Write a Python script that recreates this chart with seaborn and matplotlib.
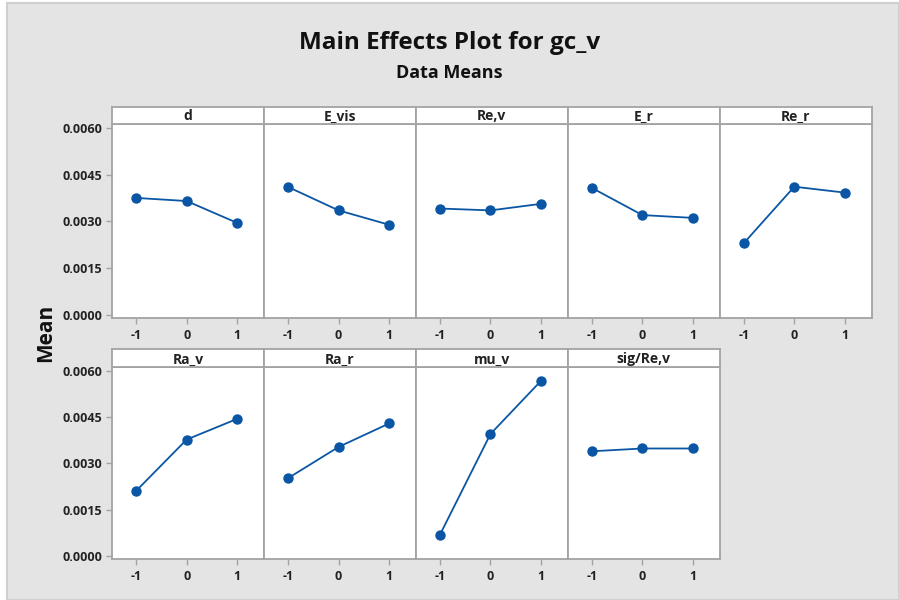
import matplotlib
matplotlib.use("Agg")
import matplotlib.pyplot as plt
from matplotlib.patches import Rectangle
import seaborn as sns
import pandas as pd

# ---- data ----
levels = [-1, 0, 1]
factors = ["d", "E_vis", "Re,v", "E_r", "Re_r", "Ra_v", "Ra_r", "mu_v", "sig/Re,v"]
d_means = [0.00375, 0.00365, 0.00295]
e_vis_means = [0.00410, 0.00335, 0.00289]
re_v_means = [0.00341, 0.00335, 0.00356]
e_r_means = [0.00407, 0.00320, 0.00311]
re_r_means = [0.00230, 0.00411, 0.00392]
ra_v_means = [0.00211, 0.00377, 0.00444]
ra_r_means = [0.00252, 0.00353, 0.00429]
mu_v_means = [0.00069, 0.00395, 0.00567]
sig_re_v_means = [0.00339, 0.00348, 0.00348]
yticks = [0.0000, 0.0015, 0.0030, 0.0045, 0.0060]
ytick_labels = ["0.0000", "0.0015", "0.0030", "0.0045", "0.0060"]
title = "Main Effects Plot for gc_v"
subtitle = "Data Means"
ylabel = "Mean"

series = [d_means, e_vis_means, re_v_means, e_r_means, re_r_means,
          ra_v_means, ra_r_means, mu_v_means, sig_re_v_means]
rows = []
for f, vals in zip(factors, series):
    for lv, v in zip(levels, vals):
        rows.append({"factor": f, "level": lv, "mean": v})
df = pd.DataFrame(rows)

# ---- style ----
sns.set_theme(style="white")
FONT = ["Open Sans", "DejaVu Sans"]
plt.rcParams["font.family"] = FONT

W, H = 899, 600
fig = plt.figure(figsize=(W / 100, H / 100), dpi=100)
fig.patch.set_facecolor("white")
BG = "#e4e4e4"
EDGE = "#a3a3a3"
LINE = "#0b56a4"

# gray graph region
fig.add_artist(Rectangle((7 / W, 0), 1 - 7 / W, 1 - 3 / H, transform=fig.transFigure,
                         facecolor=BG, edgecolor="#cfcfcf", lw=1.5, zorder=0))

def fx(px):
    return px / W

def fy(py):
    return 1 - py / H

pw = 151.9
lefts = [112 + k * pw for k in range(5)]
row_geom = [(106.5, 124, 318), (348.5, 367, 559)]  # strip top, axes top, axes bottom

for i, f in enumerate(factors):
    r, c = divmod(i, 5)
    st, at, ab = row_geom[r]
    x0 = lefts[c]
    ax = fig.add_axes([fx(x0), fy(ab), pw / W, (ab - at) / H])
    sub = df[df["factor"] == f]
    sns.lineplot(data=sub, x="level", y="mean", ax=ax, color=LINE, marker="o",
                 markersize=7.5, markeredgewidth=0, linewidth=1.3)
    ax.set_xlim(-1.48, 1.53)
    ax.set_ylim(-0.0001, 0.00612)
    ax.set_facecolor("white")
    for s in ax.spines.values():
        s.set_color(EDGE)
        s.set_linewidth(1.3)
    ax.set_xlabel("")
    ax.set_ylabel("")
    ax.set_xticks(levels)
    ax.set_xticklabels([str(v) for v in levels], fontsize=9, fontweight="bold",
                       color="#222222")
    ax.tick_params(axis="x", length=4, width=1, color=EDGE, pad=4, bottom=True)
    if c == 0:
        ax.set_yticks(yticks)
        ax.set_yticklabels(ytick_labels, fontsize=9, fontweight="bold", color="#222222")
        ax.tick_params(axis="y", length=4, width=1, color=EDGE, pad=3, left=True)
    else:
        ax.set_yticks(yticks)
        ax.tick_params(axis="y", left=False, labelleft=False)
    ax.grid(False)

    # strip header
    sax = fig.add_axes([fx(x0), fy(at), pw / W, (at - st) / H])
    sax.set_facecolor("white")
    sax.set_xticks([])
    sax.set_yticks([])
    for s in sax.spines.values():
        s.set_color(EDGE)
        s.set_linewidth(1.3)
    sax.text(0.5, 0.45, f, ha="center", va="center", fontsize=10, fontweight="bold",
             color="#222222", transform=sax.transAxes)

fig.text(0.5, fy(43), title, ha="center", va="center", fontsize=17.5,
         fontweight="bold", color="#111111")
fig.text(0.5, fy(73), subtitle, ha="center", va="center", fontsize=13,
         fontweight="bold", color="#111111")
fig.text(fx(46), fy(333), ylabel, ha="center", va="center", rotation=90,
         fontsize=15, fontweight="bold", color="#111111")

fig.savefig("out.png", dpi=100, facecolor=fig.get_facecolor())
